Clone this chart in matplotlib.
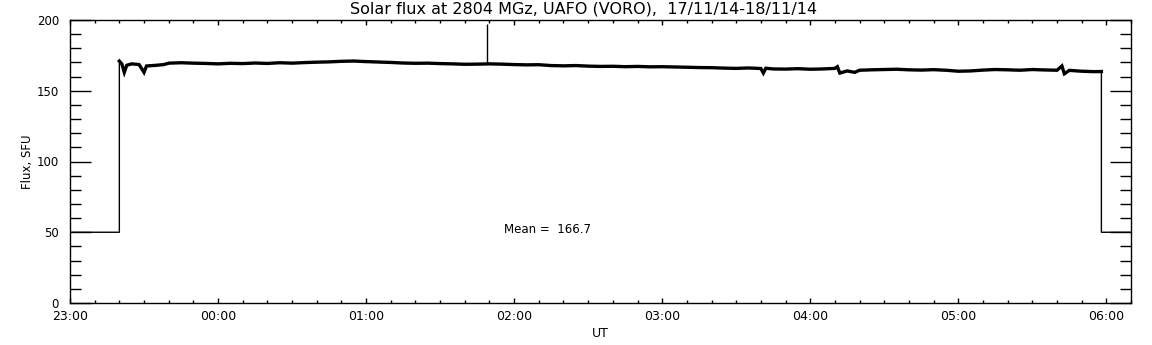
import numpy as np
import matplotlib
matplotlib.use('Agg')
import matplotlib.pyplot as plt
from matplotlib.ticker import MultipleLocator, FixedLocator

# minutes after 23:00 UT and flux in SFU
minutes = [0, 20, 20, 21, 22, 23, 25, 28, 30, 31, 35, 38, 40,
           45, 50, 55, 60, 65, 70, 75, 80, 85, 90, 95, 100, 105, 110, 115,
           120, 125, 130, 135, 140, 145, 150, 155, 160, 165, 170, 175,
           180, 185, 190, 195, 200, 205, 210, 215, 220, 225, 230, 235,
           240, 245, 250, 255, 260, 265, 270, 275, 280, 281, 282, 285, 290,
           295, 300, 305, 310, 311, 312, 315, 318, 320, 325, 330, 335, 340,
           345, 350, 355, 360, 365, 370, 375, 380, 385, 390, 395, 400,
           402, 403, 405, 410, 415, 418, 418, 430]
flux = [50, 50, 171, 169, 163, 168, 169, 168.5, 163, 167.5, 168, 168.5, 169.5,
        169.8, 169.5, 169.3, 169.0, 169.4, 169.2, 169.6, 169.3, 169.8, 169.5, 169.9, 170.2, 170.4, 170.8, 171.0,
        170.6, 170.3, 170.0, 169.6, 169.4, 169.5, 169.2, 169.0, 168.7, 168.8, 169.0, 168.8,
        168.5, 168.3, 168.4, 167.8, 167.6, 167.8, 167.4, 167.2, 167.3, 167.0, 167.2, 166.9,
        167.0, 166.8, 166.6, 166.4, 166.3, 166.0, 165.8, 166.1, 165.7, 162.5, 165.9, 165.4, 165.3,
        165.6, 165.2, 165.4, 165.8, 167.0, 162.5, 164.0, 163.0, 164.5, 164.8, 165.0, 165.2, 164.8,
        164.6, 164.9, 164.5, 163.8, 164.0, 164.6, 165.0, 164.8, 164.5, 165.0, 164.7, 164.5,
        167.5, 162.0, 164.4, 163.8, 163.5, 163.6, 50, 50]

# isolated spike near 01:49
spike_min = [169]
spike_base = [169]
spike_top = [197]

hour_labels = ['23:00', '00:00', '01:00', '02:00', '03:00', '04:00', '05:00', '06:00']
mean_flux = 166.7
title = 'Solar flux at 2804 MGz, UAFO (VORO),  17/11/14-18/11/14'

fig = plt.figure(figsize=(11.52, 3.45), dpi=100)
ax = fig.add_axes([70/1152, 1 - 303/345, 1061/1152, 283/345])

t = np.array(minutes, dtype=float)
f = np.array(flux, dtype=float)
ax.plot(t, f, color='black', lw=1.0)
on = f > 100
ax.plot(t[on], f[on], color='black', lw=2.4, solid_joinstyle='miter')
ax.vlines(spike_min, spike_base, spike_top, color='black', lw=1.0)

ax.set_xlim(0, 430)
ax.set_ylim(0, 200)

ax.xaxis.set_major_locator(FixedLocator([60 * i for i in range(len(hour_labels))]))
ax.set_xticklabels(hour_labels)
ax.xaxis.set_minor_locator(MultipleLocator(10))
ax.yaxis.set_major_locator(MultipleLocator(50))
ax.yaxis.set_minor_locator(MultipleLocator(10))

ax.tick_params(axis='x', which='major', direction='in', length=3.6, width=1, top=True, bottom=True, labelsize=9, pad=5)
ax.tick_params(axis='x', which='minor', direction='in', length=2, width=1, top=True, bottom=True)
ax.tick_params(axis='y', which='major', direction='in', length=15, width=1, left=True, right=True, labelsize=8.5, pad=8)
ax.tick_params(axis='y', which='minor', direction='in', length=8, width=1, left=True, right=True)
for s in ax.spines.values():
    s.set_linewidth(1.0)

fig.text(584/1152, 1 - 9/345, title, fontsize=11.5, ha='center', va='center')
ax.set_xlabel('UT', fontsize=9, labelpad=3)
ax.set_ylabel('Flux, SFU', fontsize=8.5, labelpad=2)
ax.text(176, 52, 'Mean =  %.1f' % mean_flux, fontsize=8.5, va='center', ha='left')

fig.savefig('out.png', dpi=100)
